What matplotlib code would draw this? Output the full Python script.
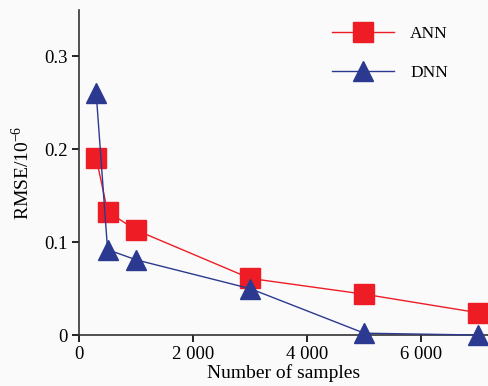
import matplotlib
matplotlib.use("Agg")
import matplotlib.pyplot as plt
from matplotlib.ticker import FuncFormatter

plt.rcParams["font.family"] = ["Liberation Serif", "DejaVu Serif"]
plt.rcParams["mathtext.fontset"] = "custom"
plt.rcParams["mathtext.rm"] = "Liberation Serif"

# data
samples = [300, 500, 1000, 3000, 5000, 7000]
ann_rmse = [0.191, 0.133, 0.113, 0.061, 0.044, 0.024]
dnn_rmse = [0.261, 0.092, 0.081, 0.050, 0.002, 0.000]

fig = plt.figure(figsize=(4.88, 3.86), dpi=100, facecolor="#fafafa")
ax = fig.add_axes([0.162, 0.132, 0.838, 0.842], facecolor="#fafafa")

ax.plot(samples, ann_rmse, color="#ee1c25", lw=1, marker="s", ms=14,
        mec="#ee1c25", label="ANN", clip_on=False, zorder=3)
ax.plot(samples, dnn_rmse, color="#2b3990", lw=1, marker="^", ms=15,
        mec="#2b3990", label="DNN", clip_on=False, zorder=4)

ax.set_xlim(0, 7170)
ax.set_ylim(0, 0.35)
ax.set_xticks([0, 2000, 4000, 6000])
ax.set_yticks([0, 0.1, 0.2, 0.3])
ax.xaxis.set_major_formatter(FuncFormatter(lambda v, p: "0" if v == 0 else f"{int(v):,}".replace(",", " ")))
ax.yaxis.set_major_formatter(FuncFormatter(lambda v, p: "0" if v == 0 else f"{v:.1f}"))
ax.tick_params(labelsize=13.5, direction="out", length=5, width=1.2, pad=3)
for s in ["top", "right"]:
    ax.spines[s].set_visible(False)
for s in ["left", "bottom"]:
    ax.spines[s].set_linewidth(1.2)
    ax.spines[s].set_color("#333333")

ax.set_xlabel("Number of samples", fontsize=14, labelpad=1)
ax.set_ylabel("RMSE/10$^{-6}$", fontsize=14, labelpad=8)

ax.legend(loc="upper right", bbox_to_anchor=(0.94, 1.0), frameon=False, fontsize=12.5,
          handlelength=3.6, labelspacing=1.35, handletextpad=0.9)

fig.savefig("out.png", dpi=100, facecolor=fig.get_facecolor())
